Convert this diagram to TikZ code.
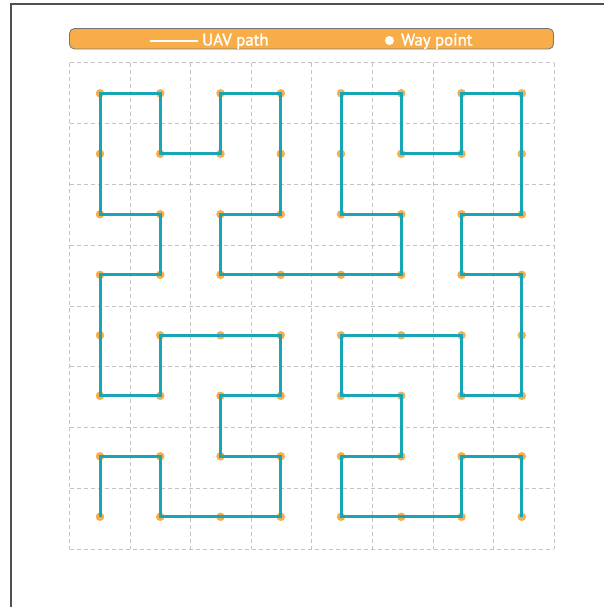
\documentclass[tikz,border=0pt]{standalone}
\usepackage{fontspec}
\setmainfont{PT Sans}
\newfontfamily\legendfont{PT Sans}[FakeBold=1.5]
\definecolor{uavorange}{RGB}{249,173,72}
\definecolor{uavteal}{RGB}{24,166,182}
\definecolor{gridgray}{RGB}{195,195,195}
\definecolor{framegray}{RGB}{80,80,80}
\tikzset{
  gridline/.style={draw=gridgray, line width=1pt, dash pattern=on 4pt off 3pt},
  uav/.style={draw=uavteal, line width=3pt, line join=miter},
  wp/.style={circle, fill=uavorange, inner sep=0pt, minimum size=8.5pt},
  legendbar/.style={draw=framegray!80, line width=0.8pt, fill=uavorange, rounded corners=5pt},
  legendtext/.style={text=white, font=\legendfont\fontsize{16.8}{20}\selectfont, anchor=base west, inner sep=0pt},
}
\begin{document}
\begin{tikzpicture}[x=1pt,y=-1pt]
\useasboundingbox (0,0) rectangle (604,607);
\fill[white] (0,0) rectangle (604,607);
% frame
\draw[framegray, line width=2pt] (11,610) -- (11,4) -- (610,4);
% legend
\path[legendbar] (69.5,28.5) rectangle (553.5,49);
\coordinate (la) at (150,41.5);
\coordinate (lb) at (198,41.5);
\draw[white, line width=2pt] (la) -- (lb);
\node[legendtext] (lt1) at (202,45.5) {UAV path};
\node[circle, fill=white, inner sep=0pt, minimum size=9pt] (ld) at (389.5,40.5) {};
\node[legendtext] (lt2) at (401,45.5) {Way point};
% grid
\foreach \k in {0,...,8} {
  \draw[gridline] ({69.5+60.6*\k},63) -- ({69.5+60.6*\k},549);
  \draw[gridline] (69.5,{63+60.75*\k}) -- (554,{63+60.75*\k});
}
% waypoints
\foreach \i in {1,...,8} {
  \foreach \j in {1,...,8} {
    \node[wp] (p\i\j) at ({100+60.25*(\i-1)},{93.3+60.5*(\j-1)}) {};
  }
}
% UAV path (Hilbert curve)
\draw[uav] (p18.center) -- (p17.center) -- (p27.center) -- (p28.center) -- (p38.center) -- (p48.center)
 -- (p47.center) -- (p37.center) -- (p36.center) -- (p46.center) -- (p45.center) -- (p35.center)
 -- (p25.center) -- (p26.center) -- (p16.center) -- (p15.center) -- (p14.center) -- (p24.center)
 -- (p23.center) -- (p13.center) -- (p12.center) -- (p11.center) -- (p21.center) -- (p22.center)
 -- (p32.center) -- (p31.center) -- (p41.center) -- (p42.center) -- (p43.center) -- (p33.center)
 -- (p34.center) -- (p44.center) -- (p54.center) -- (p64.center) -- (p63.center) -- (p53.center)
 -- (p52.center) -- (p51.center) -- (p61.center) -- (p62.center) -- (p72.center) -- (p71.center)
 -- (p81.center) -- (p82.center) -- (p83.center) -- (p73.center) -- (p74.center) -- (p84.center)
 -- (p85.center) -- (p86.center) -- (p76.center) -- (p75.center) -- (p65.center) -- (p55.center)
 -- (p56.center) -- (p66.center) -- (p67.center) -- (p57.center) -- (p58.center) -- (p68.center)
 -- (p78.center) -- (p77.center) -- (p87.center) -- (p88.center);
\end{tikzpicture}
\end{document}
